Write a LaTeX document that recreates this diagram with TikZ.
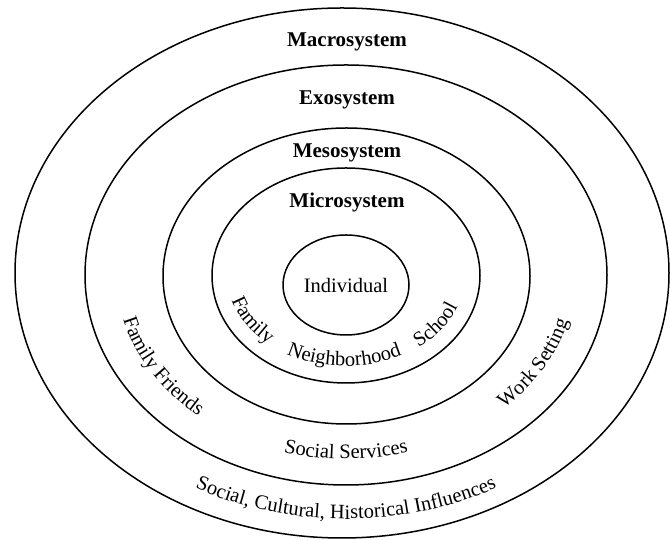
\documentclass[tikz,border=0pt]{standalone}
\usepackage{fontspec}
\setmainfont{Liberation Serif}
\usetikzlibrary{shapes.geometric,decorations.text}

\newcommand{\ringfont}{\fontsize{20.5}{24}\selectfont}

\begin{document}
\begin{tikzpicture}
	[x=1pt,y=1pt,
	ring/.style={ellipse,draw=black,line width=1.5pt,inner sep=0pt},
	sysname/.style={font=\fontsize{21}{25}\selectfont\bfseries,inner sep=1pt},
	ringtext/.style={decorate,decoration={text along path,text align=center,text={|\ringfont|#1}}}]
	\useasboundingbox (0,0) rectangle (670,540);
	%RINGS
	\node[ring,minimum width=654pt,minimum height=530pt] (macro) at (342,267) {};
	\node[ring,minimum width=522pt,minimum height=420pt] (exo) at (346,265) {};
	\node[ring,minimum width=367pt,minimum height=296pt] (meso) at (346.5,264) {};
	\node[ring,minimum width=268pt,minimum height=215pt] (micro) at (346,264.5) {};
	\node[ring,minimum width=126pt,minimum height=100pt,font=\ringfont] (indiv) at (346,255) {Individual};
	%SYSTEM NAMES
	\foreach \s/\y in {Macrosystem/498,Exosystem/440,Mesosystem/387,Microsystem/338}
	\node[sysname] (lab\s) at (347,\y) {\s};
	%MICROSYSTEM
	\coordinate (cmicro) at (346,264.5);
	\path[ringtext=Family] ([shift={(187:119 and 90.5)}]cmicro) arc[start angle=187,end angle=237,x radius=119,y radius=90.5];
	\path[ringtext=Neighborhood] ([shift={(234:119 and 90.5)}]cmicro) arc[start angle=234,end angle=304,x radius=119,y radius=90.5];
	\path[ringtext=School] ([shift={(299.5:119 and 90.5)}]cmicro) arc[start angle=299.5,end angle=349.5,x radius=119,y radius=90.5];
	%EXOSYSTEM
	\coordinate (cexo) at (346,265);
	\path[ringtext={Family Friends}] ([shift={(181:229.5 and 184)}]cexo) arc[start angle=181,end angle=241,x radius=229.5,y radius=184];
	\path[ringtext={Social Services}] ([shift={(240:229.5 and 184)}]cexo) arc[start angle=240,end angle=300,x radius=229.5,y radius=184];
	\path[ringtext={Work Setting}] ([shift={(300.5:229.5 and 184)}]cexo) arc[start angle=300.5,end angle=360.5,x radius=229.5,y radius=184];
	%MACROSYSTEM
	\coordinate (cmacro) at (346,267);
	\path[ringtext={Social, Cultural, Historical Influences}] ([shift={(232:310 and 246)}]cmacro) arc[start angle=232,end angle=308,x radius=310,y radius=246];
\end{tikzpicture}
\end{document}
